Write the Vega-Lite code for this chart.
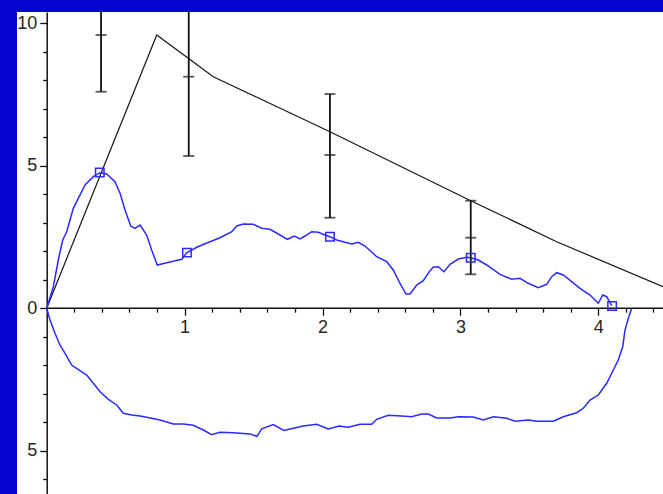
{
  "$schema": "https://vega.github.io/schema/vega-lite/v6.json",
  "width": 646,
  "height": 482,
  "autosize": {"type": "none"},
  "padding": {"left": 17, "top": 12, "right": 0, "bottom": 0},
  "background": "#0505d2",
  "config": {
    "view": {"stroke": null, "fill": "white"},
    "axis": {
      "domainColor": "#111111",
      "domainWidth": 1.5,
      "tickColor": "#111111",
      "tickWidth": 1.3,
      "grid": false
    }
  },
  "data": {
    "values": [
      {"s": "upper", "x": 0, "y": 0}, {"s": "upper", "x": 0.048, "y": 0.754}, {"s": "upper", "x": 0.084, "y": 1.691}, {"s": "upper", "x": 0.116, "y": 2.393},
      {"s": "upper", "x": 0.145, "y": 2.684}, {"s": "upper", "x": 0.193, "y": 3.505}, {"s": "upper", "x": 0.229, "y": 3.856}, {"s": "upper", "x": 0.278, "y": 4.323},
      {"s": "upper", "x": 0.338, "y": 4.614}, {"s": "upper", "x": 0.387, "y": 4.754}, {"s": "upper", "x": 0.435, "y": 4.709}, {"s": "upper", "x": 0.495, "y": 4.439},
      {"s": "upper", "x": 0.532, "y": 4.032}, {"s": "upper", "x": 0.568, "y": 3.446}, {"s": "upper", "x": 0.609, "y": 2.884}, {"s": "upper", "x": 0.640, "y": 2.804},
      {"s": "upper", "x": 0.677, "y": 2.919}, {"s": "upper", "x": 0.725, "y": 2.568}, {"s": "upper", "x": 0.761, "y": 2.042}, {"s": "upper", "x": 0.802, "y": 1.516},
      {"s": "upper", "x": 0.870, "y": 1.596}, {"s": "upper", "x": 0.979, "y": 1.716}, {"s": "upper", "x": 1.015, "y": 1.947}, {"s": "upper", "x": 1.088, "y": 2.137},
      {"s": "upper", "x": 1.184, "y": 2.333}, {"s": "upper", "x": 1.257, "y": 2.474}, {"s": "upper", "x": 1.342, "y": 2.684}, {"s": "upper", "x": 1.378, "y": 2.884},
      {"s": "upper", "x": 1.426, "y": 2.954}, {"s": "upper", "x": 1.498, "y": 2.944}, {"s": "upper", "x": 1.559, "y": 2.804}, {"s": "upper", "x": 1.619, "y": 2.768},
      {"s": "upper", "x": 1.692, "y": 2.568}, {"s": "upper", "x": 1.745, "y": 2.418}, {"s": "upper", "x": 1.796, "y": 2.533}, {"s": "upper", "x": 1.837, "y": 2.428},
      {"s": "upper", "x": 1.873, "y": 2.533}, {"s": "upper", "x": 1.922, "y": 2.684}, {"s": "upper", "x": 1.970, "y": 2.663}, {"s": "upper", "x": 2.018, "y": 2.568},
      {"s": "upper", "x": 2.054, "y": 2.509}, {"s": "upper", "x": 2.103, "y": 2.393}, {"s": "upper", "x": 2.163, "y": 2.312}, {"s": "upper", "x": 2.212, "y": 2.253},
      {"s": "upper", "x": 2.260, "y": 2.312}, {"s": "upper", "x": 2.308, "y": 2.182}, {"s": "upper", "x": 2.393, "y": 1.807}, {"s": "upper", "x": 2.466, "y": 1.632},
      {"s": "upper", "x": 2.513, "y": 1.340}, {"s": "upper", "x": 2.562, "y": 0.874}, {"s": "upper", "x": 2.606, "y": 0.498}, {"s": "upper", "x": 2.635, "y": 0.498},
      {"s": "upper", "x": 2.683, "y": 0.814}, {"s": "upper", "x": 2.731, "y": 0.965}, {"s": "upper", "x": 2.780, "y": 1.316}, {"s": "upper", "x": 2.803, "y": 1.435},
      {"s": "upper", "x": 2.840, "y": 1.456}, {"s": "upper", "x": 2.881, "y": 1.281}, {"s": "upper", "x": 2.925, "y": 1.540}, {"s": "upper", "x": 2.985, "y": 1.726},
      {"s": "upper", "x": 3.046, "y": 1.786}, {"s": "upper", "x": 3.075, "y": 1.772}, {"s": "upper", "x": 3.130, "y": 1.691}, {"s": "upper", "x": 3.191, "y": 1.516},
      {"s": "upper", "x": 3.287, "y": 1.189}, {"s": "upper", "x": 3.372, "y": 1.014}, {"s": "upper", "x": 3.432, "y": 1.049}, {"s": "upper", "x": 3.492, "y": 0.874},
      {"s": "upper", "x": 3.565, "y": 0.719}, {"s": "upper", "x": 3.626, "y": 0.839}, {"s": "upper", "x": 3.662, "y": 1.105}, {"s": "upper", "x": 3.698, "y": 1.246},
      {"s": "upper", "x": 3.746, "y": 1.165}, {"s": "upper", "x": 3.807, "y": 0.930}, {"s": "upper", "x": 3.867, "y": 0.698}, {"s": "upper", "x": 3.940, "y": 0.463},
      {"s": "upper", "x": 4.000, "y": 0.172}, {"s": "upper", "x": 4.032, "y": 0.463}, {"s": "upper", "x": 4.061, "y": 0.404}, {"s": "upper", "x": 4.097, "y": 0.088},
      {"s": "lower", "x": 0, "y": 0}, {"s": "lower", "x": 0.024, "y": -0.414}, {"s": "lower", "x": 0.060, "y": -0.881}, {"s": "lower", "x": 0.096, "y": -1.291},
      {"s": "lower", "x": 0.133, "y": -1.582}, {"s": "lower", "x": 0.181, "y": -1.993}, {"s": "lower", "x": 0.241, "y": -2.193}, {"s": "lower", "x": 0.290, "y": -2.344},
      {"s": "lower", "x": 0.338, "y": -2.635}, {"s": "lower", "x": 0.387, "y": -2.930}, {"s": "lower", "x": 0.447, "y": -3.196}, {"s": "lower", "x": 0.508, "y": -3.396},
      {"s": "lower", "x": 0.555, "y": -3.688}, {"s": "lower", "x": 0.616, "y": -3.747}, {"s": "lower", "x": 0.677, "y": -3.782}, {"s": "lower", "x": 0.725, "y": -3.828},
      {"s": "lower", "x": 0.822, "y": -3.923}, {"s": "lower", "x": 0.918, "y": -4.063}, {"s": "lower", "x": 0.991, "y": -4.063}, {"s": "lower", "x": 1.063, "y": -4.109},
      {"s": "lower", "x": 1.136, "y": -4.274}, {"s": "lower", "x": 1.196, "y": -4.44}, {"s": "lower", "x": 1.257, "y": -4.354}, {"s": "lower", "x": 1.353, "y": -4.37},
      {"s": "lower", "x": 1.474, "y": -4.41}, {"s": "lower", "x": 1.525, "y": -4.50}, {"s": "lower", "x": 1.559, "y": -4.23}, {"s": "lower", "x": 1.643, "y": -4.08},
      {"s": "lower", "x": 1.720, "y": -4.29}, {"s": "lower", "x": 1.788, "y": -4.214}, {"s": "lower", "x": 1.861, "y": -4.133}, {"s": "lower", "x": 1.958, "y": -4.074},
      {"s": "lower", "x": 2.042, "y": -4.24}, {"s": "lower", "x": 2.120, "y": -4.133}, {"s": "lower", "x": 2.187, "y": -4.179}, {"s": "lower", "x": 2.272, "y": -4.074},
      {"s": "lower", "x": 2.357, "y": -4.074}, {"s": "lower", "x": 2.393, "y": -3.898}, {"s": "lower", "x": 2.477, "y": -3.758}, {"s": "lower", "x": 2.574, "y": -3.782},
      {"s": "lower", "x": 2.647, "y": -3.807}, {"s": "lower", "x": 2.719, "y": -3.712}, {"s": "lower", "x": 2.767, "y": -3.712}, {"s": "lower", "x": 2.828, "y": -3.853},
      {"s": "lower", "x": 2.925, "y": -3.853}, {"s": "lower", "x": 2.985, "y": -3.807}, {"s": "lower", "x": 3.094, "y": -3.818}, {"s": "lower", "x": 3.166, "y": -3.923},
      {"s": "lower", "x": 3.239, "y": -3.807}, {"s": "lower", "x": 3.336, "y": -3.863}, {"s": "lower", "x": 3.396, "y": -3.968}, {"s": "lower", "x": 3.492, "y": -3.923},
      {"s": "lower", "x": 3.553, "y": -3.968}, {"s": "lower", "x": 3.674, "y": -3.968}, {"s": "lower", "x": 3.746, "y": -3.807}, {"s": "lower", "x": 3.843, "y": -3.667},
      {"s": "lower", "x": 3.891, "y": -3.512}, {"s": "lower", "x": 3.940, "y": -3.221}, {"s": "lower", "x": 4.000, "y": -3.046}, {"s": "lower", "x": 4.061, "y": -2.635},
      {"s": "lower", "x": 4.109, "y": -2.168}, {"s": "lower", "x": 4.145, "y": -1.818}, {"s": "lower", "x": 4.177, "y": -1.351}, {"s": "lower", "x": 4.194, "y": -0.765},
      {"s": "lower", "x": 4.218, "y": -0.354}, {"s": "lower", "x": 4.242, "y": 0},
      {"s": "black", "x": 0, "y": 0}, {"s": "black", "x": 0.798, "y": 9.586}, {"s": "black", "x": 1.208, "y": 8.122}, {"s": "black", "x": 2.054, "y": 6.193},
      {"s": "black", "x": 3.075, "y": 3.772}, {"s": "black", "x": 3.698, "y": 2.333}, {"s": "black", "x": 4.469, "y": 0.754},
      {"s": "err", "x": 0.394, "lo": 7.596, "mid": 9.586, "hi": 11.58},
      {"s": "err", "x": 1.030, "lo": 5.34, "mid": 8.123, "hi": 10.9},
      {"s": "err", "x": 2.054, "lo": 3.175, "mid": 5.375, "hi": 7.516},
      {"s": "err", "x": 3.075, "lo": 1.189, "mid": 2.474, "hi": 3.772},
      {"s": "sq", "x": 0.385, "y": 4.76}, {"s": "sq", "x": 1.017, "y": 1.95}, {"s": "sq", "x": 2.054, "y": 2.51},
      {"s": "sq", "x": 3.075, "y": 1.77}, {"s": "sq", "x": 4.10, "y": 0.08},
      {"s": "axis", "x": 0, "x2": 4.4692, "y": 0}
    ]
  },
  "encoding": {
    "x": {
      "field": "x", "type": "quantitative", "title": null,
      "scale": {"domain": [-0.2154, 4.4692], "nice": false, "zero": false},
      "axis": {
        "orient": "bottom", "offset": -185.8, "domain": false,
        "values": [0.2, 0.4, 0.6, 0.8, 1, 1.2, 1.4, 1.6, 1.8, 2, 2.2, 2.4, 2.6, 2.8, 3, 3.2, 3.4, 3.6, 3.8, 4, 4.2, 4.4],
        "labelExpr": "abs(datum.value - round(datum.value)) < 0.01 ? format(round(datum.value), 'd') : ''",
        "tickSize": {"condition": {"test": "abs(datum.value - round(datum.value)) < 0.01", "value": 7}, "value": 4},
        "labelFont": "Liberation Sans",
        "labelFontSize": 18,
        "labelColor": "#262626",
        "labelPadding": 3,
        "labelFlush": false,
        "labelOverlap": false
      }
    },
    "y": {
      "field": "y", "type": "quantitative", "title": null,
      "scale": {"domain": [-6.519, 10.393], "nice": false, "zero": false},
      "axis": {
        "orient": "left", "offset": -29.7,
        "values": [-6, -5, -4, -3, -2, -1, 0, 1, 2, 3, 4, 5, 6, 7, 8, 9, 10],
        "labelExpr": "datum.value % 5 === 0 ? format(abs(datum.value), 'd') : ''",
        "tickSize": {"condition": {"test": "datum.value % 5 === 0", "value": 7}, "value": 4},
        "labelFont": "Liberation Sans",
        "labelFontSize": 18,
        "labelColor": "#262626",
        "labelPadding": 3,
        "labelFlush": false,
        "labelOverlap": false
      }
    }
  },
  "layer": [
    {
      "transform": [{"filter": "datum.s === 'axis'"}],
      "mark": {"type": "rule", "color": "#111111", "strokeWidth": 1.5},
      "encoding": {"x2": {"field": "x2"}}
    },
    {
      "transform": [{"filter": "datum.s === 'black'"}],
      "mark": {"type": "line", "color": "#151515", "strokeWidth": 1.2, "clip": true},
      "encoding": {}
    },
    {
      "transform": [{"filter": "datum.s === 'upper' || datum.s === 'lower'"}],
      "mark": {"type": "line", "color": "#2b2bff", "strokeWidth": 1.5, "clip": true},
      "encoding": {"detail": {"field": "s"}}
    },
    {
      "transform": [{"filter": "datum.s === 'err'"}, {"fold": ["lo", "hi"], "as": ["k", "y"]}],
      "mark": {"type": "line", "color": "#111111", "strokeWidth": 1.8, "clip": true},
      "encoding": {"detail": {"field": "x"}}
    },
    {
      "transform": [{"filter": "datum.s === 'err'"}, {"fold": ["lo", "mid", "hi"], "as": ["k", "y"]}],
      "mark": {"type": "tick", "orient": "horizontal", "color": "#111111", "size": 11, "thickness": 1.8, "clip": true},
      "encoding": {}
    },
    {
      "transform": [{"filter": "datum.s === 'sq'"}],
      "mark": {"type": "point", "shape": "square", "filled": false, "color": "#2b2bff", "size": 72, "strokeWidth": 1.5, "opacity": 1},
      "encoding": {}
    }
  ]
}
